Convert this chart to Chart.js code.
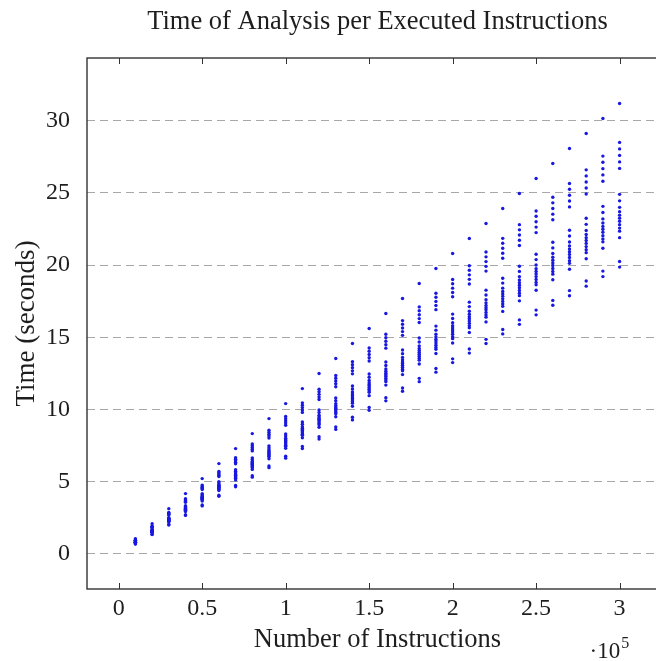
<!DOCTYPE html>
<html>
<head>
<meta charset="utf-8">
<script src="https://cdn.jsdelivr.net/npm/chart.js@4.4.1/dist/chart.umd.min.js"></script>
<style>
  html, body { margin: 0; padding: 0; background: #fff; overflow: hidden; width: 656px; height: 661px; }
  canvas { display: block; }
</style>
</head>
<body>
<canvas id="timeChart" width="672" height="661"></canvas>
<script>
// number of executed instructions (one column of runs per value)
const instructions = [
  10000, 20000, 30000, 40000, 50000, 60000, 70000, 80000, 90000, 100000,
  110000, 120000, 130000, 140000, 150000, 160000, 170000, 180000, 190000, 200000,
  210000, 220000, 230000, 240000, 250000, 260000, 270000, 280000, 290000, 300000
];

// analysis time in seconds, read per column
const times = [
  [1.04, 0.95, 0.94, 0.92, 0.91, 0.89, 0.83, 0.82, 0.80, 0.79, 0.78, 0.78, 0.77, 0.76, 0.75, 0.75, 0.73, 0.68, 0.66],
  [2.08, 1.90, 1.87, 1.84, 1.81, 1.78, 1.66, 1.63, 1.60, 1.58, 1.56, 1.55, 1.54, 1.52, 1.50, 1.49, 1.46, 1.35, 1.32],
  [3.12, 2.85, 2.81, 2.76, 2.72, 2.67, 2.49, 2.45, 2.40, 2.37, 2.35, 2.33, 2.30, 2.28, 2.26, 2.24, 2.19, 2.03, 1.99],
  [4.16, 3.80, 3.74, 3.68, 3.62, 3.56, 3.32, 3.26, 3.20, 3.16, 3.13, 3.10, 3.07, 3.04, 3.01, 2.98, 2.92, 2.70, 2.65],
  [5.20, 4.75, 4.68, 4.60, 4.53, 4.45, 4.15, 4.08, 4.00, 3.95, 3.91, 3.88, 3.84, 3.80, 3.76, 3.73, 3.65, 3.38, 3.31],
  [6.24, 5.70, 5.61, 5.52, 5.43, 5.34, 4.98, 4.89, 4.80, 4.74, 4.69, 4.65, 4.61, 4.56, 4.51, 4.47, 4.38, 4.05, 3.97],
  [7.28, 6.65, 6.55, 6.44, 6.34, 6.23, 5.81, 5.71, 5.60, 5.53, 5.47, 5.43, 5.38, 5.32, 5.26, 5.22, 5.11, 4.73, 4.63],
  [8.32, 7.60, 7.48, 7.36, 7.24, 7.12, 6.64, 6.52, 6.40, 6.32, 6.26, 6.20, 6.14, 6.08, 6.02, 5.96, 5.84, 5.40, 5.30],
  [9.36, 8.55, 8.42, 8.28, 8.15, 8.01, 7.47, 7.34, 7.20, 7.11, 7.04, 6.98, 6.91, 6.84, 6.77, 6.71, 6.57, 6.08, 5.96],
  [10.40, 9.50, 9.35, 9.20, 9.05, 8.90, 8.30, 8.15, 8.00, 7.90, 7.82, 7.75, 7.68, 7.60, 7.52, 7.45, 7.30, 6.75, 6.62],
  [11.44, 10.45, 10.29, 10.12, 9.96, 9.79, 9.13, 8.97, 8.80, 8.69, 8.60, 8.53, 8.45, 8.36, 8.27, 8.20, 8.03, 7.43, 7.28],
  [12.48, 11.40, 11.22, 11.04, 10.86, 10.68, 9.96, 9.78, 9.60, 9.48, 9.38, 9.30, 9.22, 9.12, 9.02, 8.94, 8.76, 8.10, 7.94],
  [13.52, 12.35, 12.16, 11.96, 11.77, 11.57, 10.79, 10.60, 10.40, 10.27, 10.17, 10.08, 9.98, 9.88, 9.78, 9.69, 9.49, 8.78, 8.61],
  [14.56, 13.30, 13.09, 12.88, 12.67, 12.46, 11.62, 11.41, 11.20, 11.06, 10.95, 10.85, 10.75, 10.64, 10.53, 10.43, 10.22, 9.45, 9.27],
  [15.60, 14.25, 14.03, 13.80, 13.58, 13.35, 12.45, 12.23, 12.00, 11.85, 11.73, 11.63, 11.52, 11.40, 11.28, 11.18, 10.95, 10.13, 9.93],
  [16.64, 15.20, 14.96, 14.72, 14.48, 14.24, 13.28, 13.04, 12.80, 12.64, 12.51, 12.40, 12.29, 12.16, 12.03, 11.92, 11.68, 10.80, 10.59],
  [17.68, 16.15, 15.90, 15.64, 15.39, 15.13, 14.11, 13.86, 13.60, 13.43, 13.29, 13.18, 13.06, 12.92, 12.78, 12.67, 12.41, 11.48, 11.25],
  [18.72, 17.10, 16.83, 16.56, 16.29, 16.02, 14.94, 14.67, 14.40, 14.22, 14.08, 13.95, 13.82, 13.68, 13.54, 13.41, 13.14, 12.15, 11.92],
  [19.76, 18.05, 17.77, 17.48, 17.20, 16.91, 15.77, 15.49, 15.20, 15.01, 14.86, 14.73, 14.59, 14.44, 14.29, 14.16, 13.87, 12.83, 12.58],
  [20.80, 19.00, 18.70, 18.40, 18.10, 17.80, 16.60, 16.30, 16.00, 15.80, 15.64, 15.50, 15.36, 15.20, 15.04, 14.90, 14.60, 13.50, 13.24],
  [21.84, 19.95, 19.64, 19.32, 19.01, 18.69, 17.43, 17.12, 16.80, 16.59, 16.42, 16.28, 16.13, 15.96, 15.79, 15.65, 15.33, 14.18, 13.90],
  [22.88, 20.90, 20.57, 20.24, 19.91, 19.58, 18.26, 17.93, 17.60, 17.38, 17.20, 17.05, 16.90, 16.72, 16.54, 16.39, 16.06, 14.85, 14.56],
  [23.92, 21.85, 21.51, 21.16, 20.82, 20.47, 19.09, 18.75, 18.40, 18.17, 17.99, 17.83, 17.66, 17.48, 17.30, 17.14, 16.79, 15.53, 15.23],
  [24.96, 22.80, 22.44, 22.08, 21.72, 21.36, 19.92, 19.56, 19.20, 18.96, 18.77, 18.60, 18.43, 18.24, 18.05, 17.88, 17.52, 16.20, 15.89],
  [26.00, 23.75, 23.38, 23.00, 22.63, 22.25, 20.75, 20.38, 20.00, 19.75, 19.55, 19.38, 19.20, 19.00, 18.80, 18.63, 18.25, 16.88, 16.55],
  [27.04, 24.70, 24.31, 23.92, 23.53, 23.14, 21.58, 21.19, 20.80, 20.54, 20.33, 20.15, 19.97, 19.76, 19.55, 19.37, 18.98, 17.55, 17.21],
  [28.08, 25.65, 25.25, 24.84, 24.44, 24.03, 22.41, 22.01, 21.60, 21.33, 21.11, 20.93, 20.74, 20.52, 20.30, 20.12, 19.71, 18.23, 17.87],
  [29.12, 26.60, 26.18, 25.76, 25.34, 24.92, 23.24, 22.82, 22.40, 22.12, 21.90, 21.70, 21.50, 21.28, 21.06, 20.86, 20.44, 18.90, 18.54],
  [30.16, 27.55, 27.12, 26.68, 26.25, 25.81, 24.07, 23.64, 23.20, 22.91, 22.68, 22.48, 22.27, 22.04, 21.81, 21.61, 21.17, 19.58, 19.20],
  [31.20, 28.50, 28.05, 27.60, 27.15, 26.70, 24.90, 24.45, 24.00, 23.70, 23.46, 23.25, 23.04, 22.80, 22.56, 22.35, 21.90, 20.25, 19.86]
];

// axis ticks
const xTicks = [0, 50000, 100000, 150000, 200000, 250000, 300000];
const xTickLabels = ['0', '0.5', '1', '1.5', '2', '2.5', '3'];
const yTicks = [0, 5, 10, 15, 20, 25, 30];

const serif = 'Liberation Serif';
const textColor = '#1e1e1e';

const points = [];
instructions.forEach((n, i) => {
  times[i].forEach(t => points.push({ x: n, y: t }));
});

// pgfplots style box, inner ticks and the x10^5 multiplier
const framePlugin = {
  id: 'frame',
  afterDraw(chart) {
    const { ctx, chartArea: a, scales: { x } } = chart;
    ctx.save();
    ctx.strokeStyle = '#333';
    ctx.lineWidth = 1.4;
    ctx.strokeRect(a.left, a.top, a.right - a.left, a.bottom - a.top);
    ctx.lineWidth = 1;
    xTicks.forEach(v => {
      const px = Math.round(x.getPixelForValue(v)) + 0.5;
      ctx.beginPath();
      ctx.moveTo(px, a.bottom);
      ctx.lineTo(px, a.bottom - 6);
      ctx.moveTo(px, a.top);
      ctx.lineTo(px, a.top + 6);
      ctx.stroke();
    });
    ctx.fillStyle = textColor;
    ctx.textAlign = 'left';
    ctx.textBaseline = 'alphabetic';
    ctx.font = '23px "' + serif + '"';
    const bx = x.getPixelForValue(300000) - 30;
    const w = ctx.measureText('\u00b710').width;
    ctx.fillText('\u00b710', bx, 658);
    ctx.font = '16px "' + serif + '"';
    ctx.fillText('5', bx + w + 1, 648);
    ctx.restore();
  }
};

new Chart(document.getElementById('timeChart').getContext('2d'), {
  type: 'scatter',
  data: {
    datasets: [{
      label: 'Runs',
      data: points,
      backgroundColor: 'rgb(24, 24, 225)',
      borderWidth: 0,
      pointRadius: 1.7,
      pointHoverRadius: 1.7
    }]
  },
  options: {
    responsive: false,
    devicePixelRatio: 1,
    animation: false,
    layout: { padding: { left: 0, right: 4, top: 0, bottom: 0 } },
    plugins: {
      legend: { display: false },
      tooltip: { enabled: false },
      title: {
        display: true,
        text: 'Time of Analysis per Executed Instructions',
        color: textColor,
        fullSize: false,
        font: { family: serif, size: 26.5, weight: 'normal' },
        padding: { top: 6, bottom: 20.2 }
      }
    },
    scales: {
      x: {
        type: 'linear',
        min: -19000,
        max: 329000,
        bounds: 'data',
        afterFit: s => { s.height = 72; },
        afterBuildTicks: s => { s.ticks = xTicks.map(v => ({ value: v })); },
        ticks: {
          color: textColor,
          padding: 5,
          maxRotation: 0,
          font: { family: serif, size: 24 },
          callback: v => xTickLabels[xTicks.indexOf(v)]
        },
        grid: { display: false, drawTicks: false },
        border: { display: false },
        title: {
          display: true,
          text: 'Number of Instructions',
          color: textColor,
          font: { family: serif, size: 26.5 },
          padding: { top: 0, bottom: 5 }
        }
      },
      y: {
        type: 'linear',
        min: -2.45,
        max: 34.35,
        bounds: 'data',
        afterFit: s => { s.width = 87; },
        afterBuildTicks: s => { s.ticks = yTicks.map(v => ({ value: v })); },
        ticks: {
          color: textColor,
          padding: 17,
          font: { family: serif, size: 24 }
        },
        grid: { color: '#a8a8a8', lineWidth: 1, drawTicks: false },
        border: { display: false, dash: [8, 5] },
        title: {
          display: true,
          text: 'Time (seconds)',
          color: textColor,
          font: { family: serif, size: 27 },
          padding: { top: 11, bottom: 0 }
        }
      }
    }
  },
  plugins: [framePlugin]
});
</script>
</body>
</html>
